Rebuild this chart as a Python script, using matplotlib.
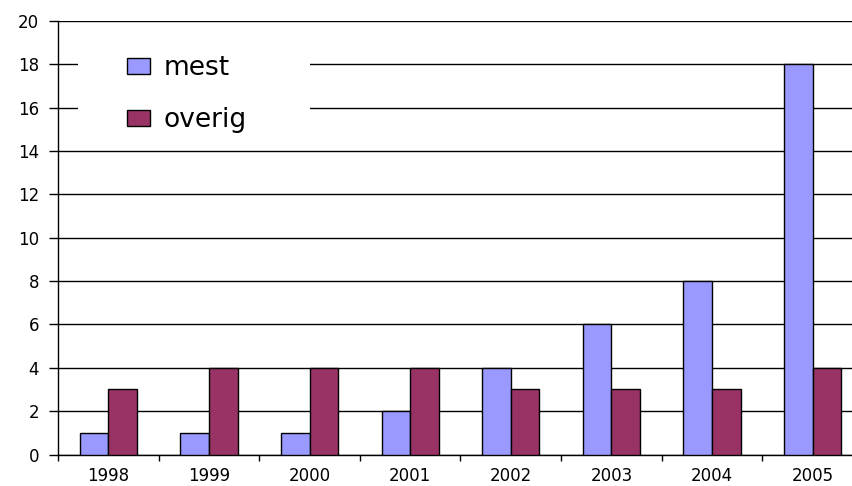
import matplotlib
matplotlib.use("Agg")
import matplotlib.pyplot as plt
import numpy as np
from matplotlib.patches import Rectangle

years = ["1998", "1999", "2000", "2001", "2002", "2003", "2004", "2005"]
mest = [1, 1, 1, 2, 4, 6, 8, 18]
overig = [3, 4, 4, 4, 3, 3, 3, 4]
yticks = [0, 2, 4, 6, 8, 10, 12, 14, 16, 18, 20]

plt.rcParams['font.family'] = ['DejaVu Sans']

W, H = 853, 486
fig = plt.figure(figsize=(W / 100, H / 100), dpi=100)
left, right = 58 / W, 863 / W
bottom, top = (H - 454.5) / H, (H - 21) / H
ax = fig.add_axes([left, bottom, right - left, top - bottom])

x = np.arange(len(years))
bw = 0.285
ax.bar(x - bw / 2, mest, bw, color="#9999FF", edgecolor="black", linewidth=1, label="mest", zorder=3)
ax.bar(x + bw / 2, overig, bw, color="#993366", edgecolor="black", linewidth=1, label="overig", zorder=3)

ax.set_xlim(-0.5, len(years) - 0.5)
ax.set_ylim(0, 20)
ax.set_yticks(yticks)
ax.set_yticklabels([str(v) for v in yticks], fontsize=12)
ax.tick_params(axis='y', direction='out', length=6.5, width=1, pad=7, color='black')

ax.set_xticks(np.arange(len(years) + 1) - 0.5)
ax.set_xticklabels([])
ax.tick_params(axis='x', which='major', direction='out', length=4, width=1)
ax.set_xticks(x, minor=True)
ax.set_xticklabels(years, minor=True, fontsize=12)
ax.tick_params(axis='x', which='minor', length=0, pad=9)

ax.yaxis.grid(True, color='black', linewidth=1)
ax.set_axisbelow(True)
for s in ['top', 'right']:
    ax.spines[s].set_visible(False)
ax.spines['left'].set_linewidth(1)
ax.spines['bottom'].set_linewidth(1)

# white area behind legend (covers gridlines)
bg = Rectangle((78 / W, (H - 140) / H), (310 - 78) / W, 110 / H,
               transform=fig.transFigure, facecolor='white',
               edgecolor='none', zorder=1, clip_on=False)
ax.add_patch(bg)

leg = ax.legend(loc='upper left', bbox_to_anchor=(127 / W, (H - 55) / H),
                bbox_transform=fig.transFigure, frameon=False, fontsize=19,
                handlelength=0.88, handleheight=0.57, handletextpad=0.5,
                labelspacing=1.0, borderpad=0, borderaxespad=0)
leg.set_zorder(5)

fig.savefig("out.png", dpi=100)
